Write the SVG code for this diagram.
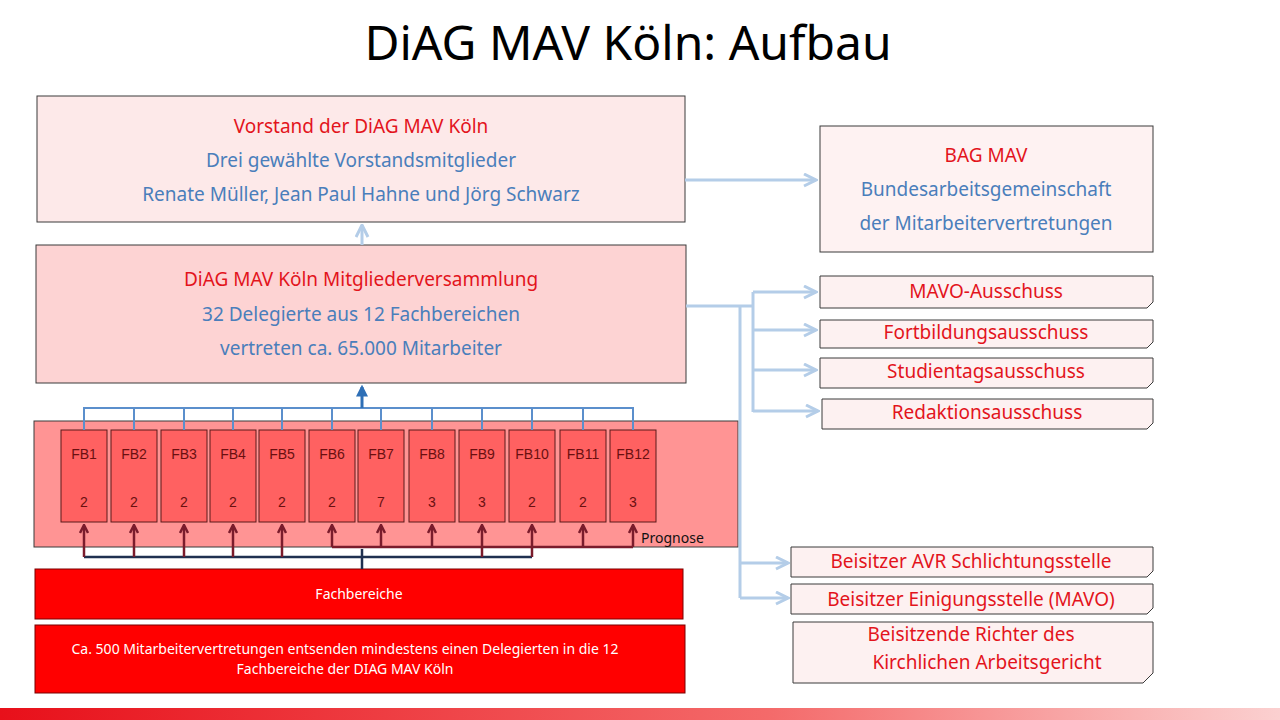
<svg xmlns="http://www.w3.org/2000/svg" width="1280" height="720" viewBox="0 0 1280 720">
<style>
text{font-family:"Noto Sans","Liberation Sans",sans-serif}
.r{fill:#e3141c}.b{fill:#4a7ebb}
.box{stroke:#3a3a3a;stroke-width:1}
.cm{fill:#fdf1f1;stroke:#3a3a3a;stroke-width:1}
.fb{fill:#ff6161;stroke:#5a1a1a;stroke-width:1}
.fbt{font-family:"Liberation Sans",Arial,sans-serif;font-size:14px;fill:#6a1010;text-anchor:middle}
.lb{fill:none;stroke:#b4cde8;stroke-width:3}
.bl{fill:none;stroke:#5b8fcc;stroke-width:2}
.dr{fill:none;stroke:#7a1c2c;stroke-width:2.5}
.nv{fill:none;stroke:#1f3050;stroke-width:2.5}
</style>
<defs>
<marker id="al" viewBox="0 0 10 10" refX="9" refY="5" markerWidth="5" markerHeight="5" orient="auto"><path d="M1,1 L9,5 L1,9" fill="none" stroke="#b4cde8" stroke-width="2"/></marker>
<marker id="ab" viewBox="0 0 10 10" refX="8" refY="5" markerWidth="4" markerHeight="4" orient="auto"><path d="M0,0 L10,5 L0,10 z" fill="#2e6fb6"/></marker>
<marker id="ad" viewBox="0 0 10 10" refX="8" refY="5" markerWidth="4" markerHeight="4" orient="auto"><path d="M1,1 L9,5 L1,9" fill="none" stroke="#7a1c2c" stroke-width="2.5"/></marker>
<linearGradient id="g" x1="0" x2="1"><stop offset="0" stop-color="#e8101a"/><stop offset="0.6" stop-color="#f46a6a"/><stop offset="1" stop-color="#fbd0d0"/></linearGradient>
</defs>
<rect width="1280" height="720" fill="#fff"/>
<text x="628" y="60" font-size="48" text-anchor="middle" fill="#000">DiAG MAV Köln: Aufbau</text>

<g id="vorstand"><rect class="box" x="37" y="96" width="648" height="126" fill="#fde9e9"/>
<text x="361" y="133" font-size="19" text-anchor="middle" class="r">Vorstand der DiAG MAV Köln</text>
<text x="361" y="167" font-size="19" text-anchor="middle" class="b">Drei gewählte Vorstandsmitglieder</text>
<text x="361" y="201" font-size="19" text-anchor="middle" class="b">Renate Müller, Jean Paul Hahne und Jörg Schwarz</text></g>

<g id="bag"><rect class="box" x="820" y="126" width="333" height="126" fill="#fef2f2"/>
<text x="986" y="162" font-size="19" text-anchor="middle" class="r">BAG MAV</text>
<text x="986" y="196" font-size="19" text-anchor="middle" class="b">Bundesarbeitsgemeinschaft</text>
<text x="986" y="230" font-size="19" text-anchor="middle" class="b">der Mitarbeitervertretungen</text></g>

<g id="mv"><rect class="box" x="36" y="245" width="650" height="138" fill="#fdd3d3"/>
<text x="361" y="286" font-size="19" text-anchor="middle" class="r">DiAG MAV Köln Mitgliederversammlung</text>
<text x="361" y="321" font-size="19" text-anchor="middle" class="b">32 Delegierte aus 12 Fachbereichen</text>
<text x="361" y="355" font-size="19" text-anchor="middle" class="b">vertreten ca. 65.000 Mitarbeiter</text></g>

<g id="fbcontainer"><rect class="box" x="34" y="421" width="704" height="126" fill="#ff9494"/>
<text x="641" y="543" font-size="14" font-family="Liberation Sans,Arial,sans-serif" fill="#111">Prognose</text></g>

<g id="fbs">
<g id="fb1"><rect class="fb" x="61" y="430" width="46" height="92"/><text class="fbt" x="84" y="459">FB1</text><text class="fbt" x="84" y="507">2</text></g>
<g id="fb2"><rect class="fb" x="111" y="430" width="46" height="92"/><text class="fbt" x="134" y="459">FB2</text><text class="fbt" x="134" y="507">2</text></g>
<g id="fb3"><rect class="fb" x="161" y="430" width="46" height="92"/><text class="fbt" x="184" y="459">FB3</text><text class="fbt" x="184" y="507">2</text></g>
<g id="fb4"><rect class="fb" x="210" y="430" width="46" height="92"/><text class="fbt" x="233" y="459">FB4</text><text class="fbt" x="233" y="507">2</text></g>
<g id="fb5"><rect class="fb" x="259" y="430" width="46" height="92"/><text class="fbt" x="282" y="459">FB5</text><text class="fbt" x="282" y="507">2</text></g>
<g id="fb6"><rect class="fb" x="309" y="430" width="46" height="92"/><text class="fbt" x="332" y="459">FB6</text><text class="fbt" x="332" y="507">2</text></g>
<g id="fb7"><rect class="fb" x="358" y="430" width="46" height="92"/><text class="fbt" x="381" y="459">FB7</text><text class="fbt" x="381" y="507">7</text></g>
<g id="fb8"><rect class="fb" x="409" y="430" width="46" height="92"/><text class="fbt" x="432" y="459">FB8</text><text class="fbt" x="432" y="507">3</text></g>
<g id="fb9"><rect class="fb" x="459" y="430" width="46" height="92"/><text class="fbt" x="482" y="459">FB9</text><text class="fbt" x="482" y="507">3</text></g>
<g id="fb10"><rect class="fb" x="509" y="430" width="46" height="92"/><text class="fbt" x="532" y="459">FB10</text><text class="fbt" x="532" y="507">2</text></g>
<g id="fb11"><rect class="fb" x="560" y="430" width="46" height="92"/><text class="fbt" x="583" y="459">FB11</text><text class="fbt" x="583" y="507">2</text></g>
<g id="fb12"><rect class="fb" x="610" y="430" width="46" height="92"/><text class="fbt" x="633" y="459">FB12</text><text class="fbt" x="633" y="507">3</text></g>
</g>

<g id="fachbereiche"><rect x="35" y="569" width="648" height="50" fill="#ff0000" stroke="#7a0000"/>
<text x="359" y="599" font-size="14" text-anchor="middle" fill="#fff" font-family="Liberation Sans,Arial,sans-serif">Fachbereiche</text></g>
<g id="mavs"><rect x="35" y="625" width="650" height="68" fill="#ff0000" stroke="#7a0000"/>
<text x="345" y="654" font-size="14" text-anchor="middle" fill="#fff" font-family="Liberation Sans,Arial,sans-serif">Ca. 500 Mitarbeitervertretungen entsenden mindestens einen Delegierten  in die 12</text>
<text x="345" y="674" font-size="14" text-anchor="middle" fill="#fff" font-family="Liberation Sans,Arial,sans-serif">Fachbereiche der DIAG MAV Köln</text></g>

<g id="committees">
<g id="mavo"><path class="cm" d="M820,276 H1153 V302 L1147,308 H820 Z"/><text x="986" y="298" font-size="19" text-anchor="middle" class="r">MAVO-Ausschuss</text></g>
<g id="fortb"><path class="cm" d="M820,320 H1153 V342 L1147,348 H820 Z"/><text x="986" y="339" font-size="19" text-anchor="middle" class="r">Fortbildungsausschuss</text></g>
<g id="stud"><path class="cm" d="M820,358 H1153 V382 L1147,388 H820 Z"/><text x="986" y="378" font-size="19" text-anchor="middle" class="r">Studientagsausschuss</text></g>
<g id="red"><path class="cm" d="M822,399 H1153 V423 L1147,429 H822 Z"/><text x="987" y="419" font-size="19" text-anchor="middle" class="r">Redaktionsausschuss</text></g>
<g id="avr"><path class="cm" d="M791,547 H1153 V571 L1147,577 H791 Z"/><text x="971" y="568" font-size="19" text-anchor="middle" class="r">Beisitzer AVR Schlichtungsstelle</text></g>
<g id="einig"><path class="cm" d="M791,584 H1153 V608 L1147,614 H791 Z"/><text x="971" y="606" font-size="19" text-anchor="middle" class="r">Beisitzer Einigungsstelle (MAVO)</text></g>
<g id="richter"><path class="cm" d="M793,622 H1153 V673 L1143,683 H793 Z"/><text x="971" y="641" font-size="19" text-anchor="middle" class="r">Beisitzende Richter des</text><text x="987" y="669" font-size="19" text-anchor="middle" class="r">Kirchlichen Arbeitsgericht</text></g>
</g>

<g id="connectors">
<path class="lb" d="M362,245 V225" marker-end="url(#al)"/>
<path class="lb" d="M685,180 H816" marker-end="url(#al)"/>
<path class="lb" d="M686,306 H753"/>
<path class="lb" d="M753,292 V412"/>
<path class="lb" d="M753,292 H816" marker-end="url(#al)"/>
<path class="lb" d="M753,330 H816" marker-end="url(#al)"/>
<path class="lb" d="M753,370 H816" marker-end="url(#al)"/>
<path class="lb" d="M753,411 H818" marker-end="url(#al)"/>
<path class="lb" d="M740,306 V598"/>
<path class="lb" d="M740,563 H788" marker-end="url(#al)"/>
<path class="lb" d="M740,598 H788" marker-end="url(#al)"/>
<path class="bl" d="M84,430 V408 H633 V430 M134,408 V430 M184,408 V430 M233,408 V430 M282,408 V430 M332,408 V430 M381,408 V430 M432,408 V430 M482,408 V430 M532,408 V430 M583,408 V430"/>
<path d="M362,408 V387" fill="none" stroke="#2e6fb6" stroke-width="3" marker-end="url(#ab)"/>
<path class="nv" d="M362,569 V549 M84,557 H532 M362,549 V557"/>
<path class="dr" d="M332,547 H633 M362,547 H381"/>
<path class="dr" d="M84,557 V526" marker-end="url(#ad)"/>
<path class="dr" d="M134,557 V526" marker-end="url(#ad)"/>
<path class="dr" d="M184,557 V526" marker-end="url(#ad)"/>
<path class="dr" d="M233,557 V526" marker-end="url(#ad)"/>
<path class="dr" d="M282,557 V526" marker-end="url(#ad)"/>
<path class="dr" d="M332,547 V526" marker-end="url(#ad)"/>
<path class="dr" d="M381,547 V526" marker-end="url(#ad)"/>
<path class="dr" d="M432,547 V526" marker-end="url(#ad)"/>
<path class="dr" d="M482,557 V526" marker-end="url(#ad)"/>
<path class="dr" d="M532,557 V526" marker-end="url(#ad)"/>
<path class="dr" d="M583,547 V526" marker-end="url(#ad)"/>
<path class="dr" d="M633,547 V526" marker-end="url(#ad)"/>
</g>
<rect x="0" y="708" width="1280" height="12" fill="url(#g)"/>
</svg>
